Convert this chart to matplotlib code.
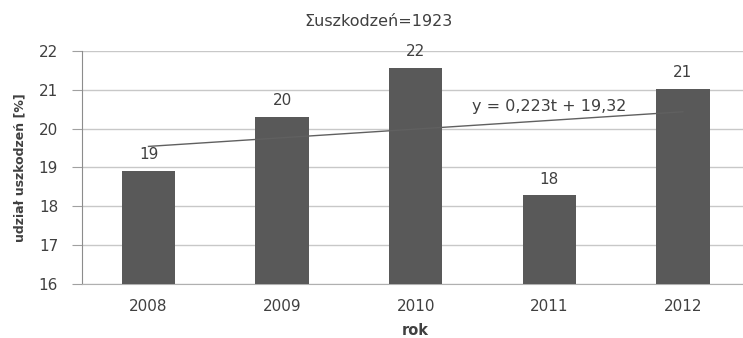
import matplotlib.pyplot as plt
import numpy as np

# udział uszkodzeń w kolejnych latach
lata = ["2008", "2009", "2010", "2011", "2012"]
udzial = [18.92, 20.30, 21.57, 18.28, 21.03]
etykiety = ["19", "20", "22", "18", "21"]

# linia trendu y = a*t + b
trend_a = 0.223
trend_b = 19.32

plt.rcParams['font.family'] = ['DejaVu Sans']
kolor_tekstu = "#404040"

fig = plt.figure(figsize=(7.43, 3.38), dpi=100)
ax = fig.add_axes([0.110, 0.160, 0.899, 0.689])

x = np.arange(len(lata))
ax.bar(x, udzial, width=0.40, color="#595959", zorder=3)

# wartości nad słupkami
for xi, val, txt in zip(x, udzial, etykiety):
    ax.text(xi, val + 0.22, txt, ha="center", va="bottom", fontsize=11, color=kolor_tekstu)

# trend liniowy
t = x + 1
ax.plot(x, trend_a * t + trend_b, color="#606060", lw=1.0, zorder=4)
ax.text(3.0, 20.57, "y = 0,223t + 19,32", ha="center", va="center", fontsize=11.5, color=kolor_tekstu)

ax.set_ylim(16, 22)
ax.set_yticks(range(16, 23))
ax.set_xlim(-0.5, 4.5)
ax.set_xticks(x)
ax.set_xticklabels(lata)
ax.grid(axis="y", color="#c8c8c8", lw=1.0, zorder=0)

for s in ["top", "right"]:
    ax.spines[s].set_visible(False)
ax.spines["left"].set_color("#8c8c8c")
ax.spines["bottom"].set_color("#b0b0b0")
ax.tick_params(axis="y", colors="#a0a0a0", labelcolor=kolor_tekstu, labelsize=11, length=7, pad=10)
ax.tick_params(axis="x", length=0, labelcolor=kolor_tekstu, labelsize=11, pad=11)

ax.set_ylabel("udział uszkodzeń [%]", fontsize=9, fontweight="bold", color=kolor_tekstu, labelpad=9)
ax.set_xlabel("rok", fontsize=10.5, fontweight="bold", color=kolor_tekstu, labelpad=6)
fig.text(0.51, 0.936, "Σuszkodzeń=1923", ha="center", va="center", fontsize=11.5, color=kolor_tekstu)

fig.savefig("out.png", dpi=100)
